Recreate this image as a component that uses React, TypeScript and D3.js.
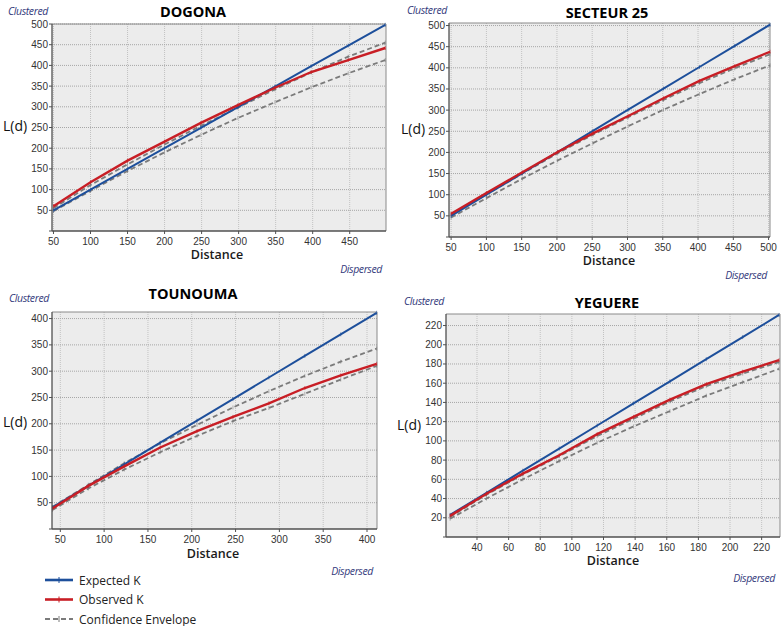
import React from 'react';
import * as d3 from 'd3';

// DOGONA
const dogonaDistance = [50, 100, 150, 200, 249, 299, 349, 398, 448, 498];
const dogonaExpected = [50, 100, 150, 200, 249, 299, 349, 398, 448, 498];
const dogonaObserved = [60, 118, 170, 216, 261, 304, 346, 384, 413, 442];
const dogonaEnvHigh = [55, 111, 161, 209, 254, 298, 342, 383, 421, 455];
const dogonaEnvLow = [48, 97, 145, 190, 232, 273, 311, 347, 381, 413];
const dogonaXTicks = [50, 100, 150, 200, 250, 300, 350, 400, 450];
const dogonaYTicks = [50, 100, 150, 200, 250, 300, 350, 400, 450, 500];

// SECTEUR 25
const secteurDistance = [50, 100, 151, 201, 251, 301, 351, 402, 452, 502];
const secteurExpected = [50, 100, 151, 201, 251, 301, 351, 402, 452, 502];
const secteurObserved = [55, 104, 153, 201, 245, 286, 328, 369, 404, 438];
const secteurEnvHigh = [53, 101, 150, 198, 242, 283, 324, 364, 399, 432];
const secteurEnvLow = [46, 92, 138, 181, 222, 262, 301, 338, 373, 406];
const secteurXTicks = [50, 100, 150, 200, 250, 300, 350, 400, 450, 500];
const secteurYTicks = [50, 100, 150, 200, 250, 300, 350, 400, 450, 500];

// TOUNOUMA
const tounoumaDistance = [41, 82, 123, 164, 206, 247, 288, 329, 370, 411];
const tounoumaExpected = [41, 82, 123, 164, 206, 247, 288, 329, 370, 411];
const tounoumaObserved = [39, 82, 119, 155, 186, 213, 239, 268, 292, 314];
const tounoumaEnvHigh = [42, 84, 125, 163, 198, 231, 262, 291, 318, 343];
const tounoumaEnvLow = [36, 77, 113, 146, 177, 205, 230, 257, 284, 310];
const tounoumaXTicks = [50, 100, 150, 200, 250, 300, 350, 400];
const tounoumaYTicks = [50, 100, 150, 200, 250, 300, 350, 400];

// YEGUERE
const yeguereDistance = [23, 46, 69, 92, 116, 139, 162, 185, 208, 231];
const yeguereExpected = [23, 46, 69, 92, 116, 139, 162, 185, 208, 231];
const yeguereObserved = [22, 45, 66, 85, 107, 125, 143, 159, 172, 184];
const yeguereEnvHigh = [21, 44, 65, 84, 105, 123, 141, 157, 170, 182];
const yeguereEnvLow = [19, 40, 60, 79, 98, 115, 131, 147, 161, 175];
const yeguereXTicks = [40, 60, 80, 100, 120, 140, 160, 180, 200, 220];
const yeguereYTicks = [20, 40, 60, 80, 100, 120, 140, 160, 180, 200, 220];

const BLUE = '#1d4f9b';
const RED = '#c81e25';
const GREY = '#7b7b7b';
const NAVY = '#343a7c';

interface Box { left: number; right: number; top: number; bottom: number; }
interface Pt { x: number; y: number; }

interface PanelProps {
    title: string;
    distance: number[];
    expected: number[];
    observed: number[];
    envHigh: number[];
    envLow: number[];
    xTicks: number[];
    yTicks: number[];
    xDomain: [number, number];
    yDomain: [number, number];
    box: Box;
    titlePos: Pt;
    clusteredPos: Pt;
    ldPos: Pt;
    distancePos: Pt;
    dispersedPos: Pt;
}

const Panel: React.FC<PanelProps> = (p) => {
    const x = d3.scaleLinear().domain(p.xDomain).range([p.box.left, p.box.right]);
    const y = d3.scaleLinear().domain(p.yDomain).range([p.box.bottom, p.box.top]);

    const mkLine = (vals: number[]) =>
        d3.line<number>()
            .x((_, i) => x(p.distance[i]))
            .y(d => y(d))(vals) || undefined;

    // small "+" marks at each distance band
    const marks = (vals: number[], color: string) =>
        vals.map((v, i) => (
            <line key={i} x1={x(p.distance[i])} x2={x(p.distance[i])}
                y1={y(v) - 2} y2={y(v) + 2} stroke={color} strokeWidth={0.8} opacity={0.7} />
        ));

    const { left, right, top, bottom } = p.box;

    return (
        <g>
            <rect x={left} y={top} width={right - left} height={bottom - top} fill="#ececec" />
            {p.xTicks.map(t => (
                <line key={'vx' + t} x1={x(t)} x2={x(t)} y1={top} y2={bottom}
                    stroke="#c2c2c2" strokeWidth={1} strokeDasharray="1,1" />
            ))}
            {p.yTicks.map(t => (
                <line key={'hy' + t} x1={left} x2={right} y1={y(t)} y2={y(t)}
                    stroke="#a6a6a6" strokeWidth={1} strokeDasharray="1,1" />
            ))}
            <line x1={left} x2={right} y1={top} y2={top} stroke="#8a8a8a" />
            <line x1={right} x2={right} y1={top} y2={bottom} stroke="#8a8a8a" />

            {/* envelope */}
            <path d={mkLine(p.envLow)} fill="none" stroke={GREY} strokeWidth={1.8} strokeDasharray="5,3" />
            <path d={mkLine(p.envHigh)} fill="none" stroke={GREY} strokeWidth={1.8} strokeDasharray="5,3" />
            {marks(p.envLow, GREY)}
            {marks(p.envHigh, GREY)}
            {/* expected */}
            <path d={mkLine(p.expected)} fill="none" stroke={BLUE} strokeWidth={2} />
            {marks(p.expected, BLUE)}
            {/* observed */}
            <path d={mkLine(p.observed)} fill="none" stroke={RED} strokeWidth={2.4} />
            {marks(p.observed, RED)}

            {/* axes */}
            <line x1={left} x2={left} y1={top} y2={bottom} stroke="#505050" strokeWidth={1.3} />
            <line x1={left} x2={right} y1={bottom} y2={bottom} stroke="#505050" strokeWidth={1.3} />
            {p.yTicks.map(t => (
                <g key={'yt' + t}>
                    <line x1={left - 3} x2={left} y1={y(t)} y2={y(t)} stroke="#505050" />
                    <text x={left - 4} y={y(t) + 3.5} textAnchor="end" fontSize={10}
                        fontFamily="'Liberation Sans', Arial, sans-serif" fill="#333">{t}</text>
                </g>
            ))}
            <line x1={left - 3} x2={left} y1={bottom} y2={bottom} stroke="#505050" />
            {p.xTicks.map(t => (
                <g key={'xt' + t}>
                    <line x1={x(t)} x2={x(t)} y1={bottom} y2={bottom + 3} stroke="#505050" />
                    <text x={x(t)} y={bottom + 14} textAnchor="middle" fontSize={10}
                        fontFamily="'Liberation Sans', Arial, sans-serif" fill="#333">{t}</text>
                </g>
            ))}

            <text x={p.titlePos.x} y={p.titlePos.y} textAnchor="middle" fontSize={14.5}
                fontWeight="bold" fontFamily="'Open Sans', sans-serif" fill="#000">{p.title}</text>
            <text x={p.clusteredPos.x} y={p.clusteredPos.y} fontSize={10.5} fontStyle="italic"
                fontFamily="'Open Sans', sans-serif" fill={NAVY} letterSpacing={-0.4}>Clustered</text>
            <text x={p.ldPos.x} y={p.ldPos.y} fontSize={14}
                fontFamily="'Open Sans', sans-serif" fill="#111">L(d)</text>
            <text x={p.distancePos.x} y={p.distancePos.y} textAnchor="middle" fontSize={12.5}
                fontFamily="'Open Sans', sans-serif" fill="#1a1a1a" fontWeight={600}>Distance</text>
            <text x={p.dispersedPos.x} y={p.dispersedPos.y} textAnchor="end" fontSize={10.5} fontStyle="italic"
                fontFamily="'Open Sans', sans-serif" fill={NAVY} letterSpacing={-0.4}>Dispersed</text>
        </g>
    );
};

const legendItems = [
    { label: 'Expected K', color: BLUE, dash: undefined as string | undefined, w: 2.6 },
    { label: 'Observed K', color: RED, dash: undefined as string | undefined, w: 2.6 },
    { label: 'Confidence Envelope', color: GREY, dash: '5,3', w: 2 },
];

const App: React.FC = () => {
    const legendY = d3.scaleLinear().domain([0, 2]).range([580, 619]);
    return (
        <svg width={784} height={626} style={{ position: 'absolute', left: 0, top: 0, background: '#fff' }}>
            <Panel title="DOGONA" distance={dogonaDistance} expected={dogonaExpected}
                observed={dogonaObserved} envHigh={dogonaEnvHigh} envLow={dogonaEnvLow}
                xTicks={dogonaXTicks} yTicks={dogonaYTicks} xDomain={[48, 499]} yDomain={[0, 500]}
                box={{ left: 52, right: 386, top: 24, bottom: 231 }}
                titlePos={{ x: 193, y: 17 }} clusteredPos={{ x: 8, y: 15 }} ldPos={{ x: 3, y: 131 }}
                distancePos={{ x: 217, y: 259 }} dispersedPos={{ x: 382, y: 273 }} />
            <Panel title="SECTEUR 25" distance={secteurDistance} expected={secteurExpected}
                observed={secteurObserved} envHigh={secteurEnvHigh} envLow={secteurEnvLow}
                xTicks={secteurXTicks} yTicks={secteurYTicks} xDomain={[47, 502]} yDomain={[0, 506]}
                box={{ left: 449, right: 770, top: 23, bottom: 237 }}
                titlePos={{ x: 607, y: 18 }} clusteredPos={{ x: 407, y: 14 }} ldPos={{ x: 401, y: 134 }}
                distancePos={{ x: 609, y: 265 }} dispersedPos={{ x: 767, y: 279 }} />
            <Panel title="TOUNOUMA" distance={tounoumaDistance} expected={tounoumaExpected}
                observed={tounoumaObserved} envHigh={tounoumaEnvHigh} envLow={tounoumaEnvLow}
                xTicks={tounoumaXTicks} yTicks={tounoumaYTicks} xDomain={[40.5, 411.4]} yDomain={[0, 412.5]}
                box={{ left: 52, right: 377, top: 312, bottom: 529 }}
                titlePos={{ x: 193, y: 299 }} clusteredPos={{ x: 9, y: 302 }} ldPos={{ x: 3, y: 427 }}
                distancePos={{ x: 213, y: 558 }} dispersedPos={{ x: 373, y: 575 }} />
            <Panel title="YEGUERE" distance={yeguereDistance} expected={yeguereExpected}
                observed={yeguereObserved} envHigh={yeguereEnvHigh} envLow={yeguereEnvLow}
                xTicks={yeguereXTicks} yTicks={yeguereYTicks} xDomain={[20.4, 231.6]} yDomain={[0, 232]}
                box={{ left: 446, right: 780, top: 314, bottom: 537 }}
                titlePos={{ x: 607, y: 308 }} clusteredPos={{ x: 404, y: 305 }} ldPos={{ x: 397, y: 430 }}
                distancePos={{ x: 613, y: 565 }} dispersedPos={{ x: 775, y: 582 }} />

            {legendItems.map((it, i) => (
                <g key={it.label}>
                    <line x1={45} x2={73} y1={legendY(i)} y2={legendY(i)} stroke={it.color}
                        strokeWidth={it.w} strokeDasharray={it.dash} />
                    <line x1={59} x2={59} y1={legendY(i) - 3} y2={legendY(i) + 3} stroke={it.color} strokeWidth={1} />
                    <text x={79} y={legendY(i) + 4.5} fontSize={12} fontFamily="'Open Sans', sans-serif"
                        fill="#222">{it.label}</text>
                </g>
            ))}
        </svg>
    );
};

export default App;
